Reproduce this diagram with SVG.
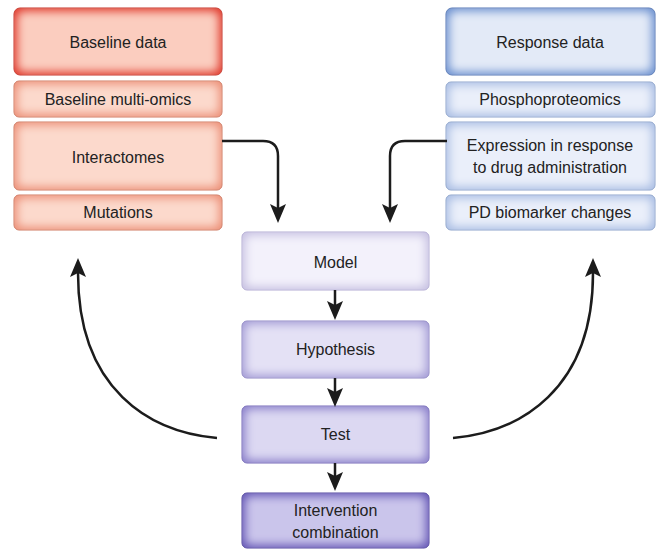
<svg xmlns="http://www.w3.org/2000/svg" width="660" height="552" viewBox="0 0 660 552">
<style>
.base{stroke-width:1}
text{font-family:"Liberation Sans",Arial,sans-serif;font-size:16px;fill:#222;text-anchor:middle;dominant-baseline:central}
.inner{filter:url(#soft)}
.redtop .base{fill:#e0392c;stroke:#c4342a}
.redtop .inner{fill:#fbcdbf}
.redsub .base{fill:#ec9078;stroke:#cf7a63}
.redsub .inner{fill:#fcd9cc}
.bluetop .base{fill:#6a8fcf;stroke:#5677b4}
.bluetop .inner{fill:#e3eaf7}
.bluesub .base{fill:#a9bde3;stroke:#8ea4cb}
.bluesub .inner{fill:#eaeffa}
.model .base{fill:#c6c0e1;stroke:#b3acd3}
.model .inner{fill:#f3f1fb}
.hyp .base{fill:#a39bd5;stroke:#9088c4}
.hyp .inner{fill:#e4e1f5}
.test .base{fill:#8a7fca;stroke:#766bb8}
.test .inner{fill:#dcd8f2}
.int .base{fill:#6456b5;stroke:#53479f}
.int .inner{fill:#cac5eb}
.conn path{fill:none;stroke:#1c1c1c;stroke-width:2.5;marker-end:url(#ah)}
</style>
<defs>
<filter id="soft" x="-10%" y="-20%" width="120%" height="140%">
<feMorphology in="SourceGraphic" operator="erode" radius="2.5"/>
<feGaussianBlur stdDeviation="5"/>
<feComposite in2="SourceAlpha" operator="in"/>
</filter>
<marker id="ah" markerUnits="userSpaceOnUse" markerWidth="19" markerHeight="16" refX="4" refY="8" orient="auto" viewBox="0 0 19 16">
<path d="M0,0 L19,8 L0,16 L4,8 z" fill="#1c1c1c"/>
</marker>
</defs>
<rect width="660" height="552" fill="#fff"/>

<g id="baseline-data" class="redtop"><rect class="base" x="14" y="8" width="208" height="67" rx="6"/><rect class="inner" x="14" y="8" width="208" height="67" rx="6"/><text x="118" y="42">Baseline data</text></g>
<g id="baseline-multi-omics" class="redsub"><rect class="base" x="14" y="81" width="208" height="36" rx="5"/><rect class="inner" x="14" y="81" width="208" height="36" rx="5"/><text x="118" y="99">Baseline multi-omics</text></g>
<g id="interactomes" class="redsub"><rect class="base" x="14" y="122" width="208" height="68" rx="5"/><rect class="inner" x="14" y="122" width="208" height="68" rx="5"/><text x="118" y="157">Interactomes</text></g>
<g id="mutations" class="redsub"><rect class="base" x="14" y="195" width="208" height="35" rx="5"/><rect class="inner" x="14" y="195" width="208" height="35" rx="5"/><text x="118" y="212">Mutations</text></g>

<g id="response-data" class="bluetop"><rect class="base" x="446" y="8" width="209" height="67" rx="6"/><rect class="inner" x="446" y="8" width="209" height="67" rx="6"/><text x="550" y="42">Response data</text></g>
<g id="phosphoproteomics" class="bluesub"><rect class="base" x="446" y="82" width="209" height="35" rx="5"/><rect class="inner" x="446" y="82" width="209" height="35" rx="5"/><text x="550" y="99">Phosphoproteomics</text></g>
<g id="expression" class="bluesub"><rect class="base" x="446" y="122" width="209" height="68" rx="5"/><rect class="inner" x="446" y="122" width="209" height="68" rx="5"/><text x="550" y="145">Expression in response</text><text x="550" y="167">to drug administration</text></g>
<g id="pd-biomarker" class="bluesub"><rect class="base" x="446" y="195" width="209" height="35" rx="5"/><rect class="inner" x="446" y="195" width="209" height="35" rx="5"/><text x="550" y="212">PD biomarker changes</text></g>

<g id="model" class="model"><rect class="base" x="242" y="232" width="187" height="58" rx="5"/><rect class="inner" x="242" y="232" width="187" height="58" rx="5"/><text x="335.5" y="262">Model</text></g>
<g id="hypothesis" class="hyp"><rect class="base" x="242" y="321" width="187" height="57" rx="5"/><rect class="inner" x="242" y="321" width="187" height="57" rx="5"/><text x="335.5" y="349">Hypothesis</text></g>
<g id="test" class="test"><rect class="base" x="242" y="406" width="187" height="57" rx="5"/><rect class="inner" x="242" y="406" width="187" height="57" rx="5"/><text x="335.5" y="434">Test</text></g>
<g id="intervention" class="int"><rect class="base" x="242" y="493" width="187" height="55" rx="5"/><rect class="inner" x="242" y="493" width="187" height="55" rx="5"/><text x="335.5" y="510">Intervention</text><text x="335.5" y="532">combination</text></g>

<g id="connectors" class="conn">
<path d="M222,141 H263 Q278,141 278,156 V208"/>
<path d="M447,141 H405 Q390,141 390,156 V208"/>
<path d="M335,290 V305"/>
<path d="M335,378 V392"/>
<path d="M335,463 V476"/>
<path d="M217,438 C150,432 78,390 78,273"/>
<path d="M453,438 C520,432 593,390 593,273"/>
</g>
</svg>
